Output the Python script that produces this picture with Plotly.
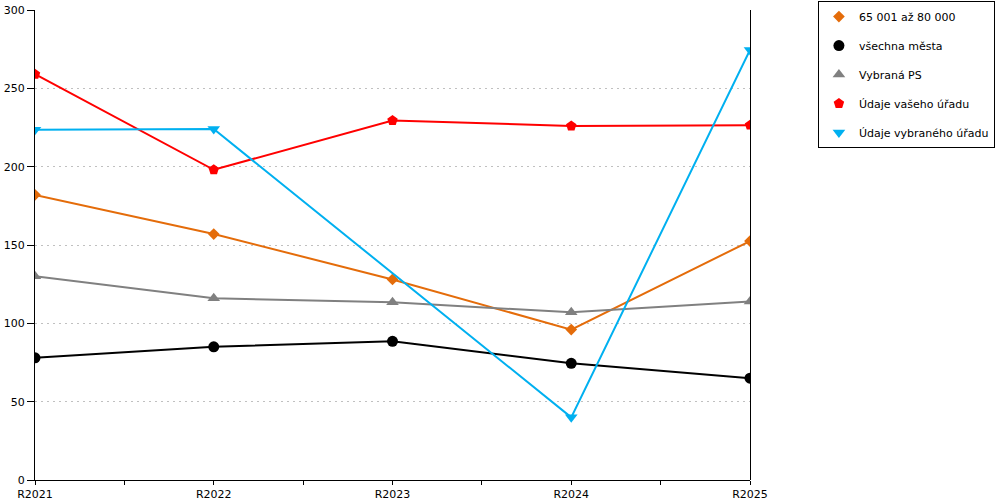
import plotly.graph_objects as go

years = ["R2021", "R2022", "R2023", "R2024", "R2025"]

mesta_65_80 = [182, 157, 128, 96, 152.5]
vsechna_mesta = [78, 85, 88.5, 74.5, 65]
vybrana_ps = [130, 116, 113.5, 107, 114]
vas_urad = [259, 198, 229.5, 226, 226.5]
vybrany_urad = [223.5, 224, None, 40, 274.5]

names = ["65 001 až 80 000", "všechna města", "Vybraná PS",
         "Údaje vašeho úřadu", "Údaje vybraného úřadu"]
colors = ["#E46C0A", "#000000", "#808080", "#FF0000", "#00B0F0"]
symbols = ["diamond", "circle", "triangle-up", "pentagon", "triangle-down"]
sizes = [9, 11, 11, 11, 11]
series = [mesta_65_80, vsechna_mesta, vybrana_ps, vas_urad, vybrany_urad]

xpos = list(range(len(years)))

fig = go.Figure()
for i, vals in enumerate(series):
    fig.add_trace(go.Scatter(
        x=xpos, y=vals, name=names[i], mode="lines+markers",
        line=dict(color=colors[i], width=2),
        marker=dict(symbol=symbols[i], size=sizes[i], color=colors[i]),
        connectgaps=True, showlegend=False,
    ))
    # marker-only entry for the legend
    fig.add_trace(go.Scatter(
        x=[None], y=[None], name=names[i], mode="markers",
        marker=dict(symbol=symbols[i], size=sizes[i], color=colors[i]),
        legendgroup=str(i),
    ))

# half-step ticks, labels only on the categories
tickvals = [i / 2 for i in range(2 * len(years) - 1)]
ticktext = [years[int(v)] if v == int(v) else "" for v in tickvals]

fig.update_xaxes(
    range=[0, len(years) - 1], tickvals=tickvals, ticktext=ticktext,
    showline=True, linecolor="black", linewidth=1,
    ticks="outside", ticklen=4, tickcolor="black",
    showgrid=False, zeroline=False, automargin=False,
)
fig.update_yaxes(
    range=[0, 300], dtick=50,
    showline=True, linecolor="black", linewidth=1,
    ticks="outside", ticklen=7, tickcolor="black",
    showgrid=True, gridcolor="#c0c0c0", griddash="2px,4px", gridwidth=1,
    zeroline=False, automargin=False,
)

# right border line of the plot area (half-pixel shift keeps it crisp)
edge = 1 + 0.5 / 715
fig.add_shape(type="line", xref="paper", yref="paper", x0=edge, x1=edge, y0=0, y1=1,
              line=dict(color="black", width=1))

fig.update_layout(
    width=1000, height=500,
    margin=dict(l=35, r=250, t=10, b=20, autoexpand=False),
    paper_bgcolor="white", plot_bgcolor="white",
    font=dict(family="DejaVu Sans", size=11, color="black"),
    legend=dict(
        x=1.095, y=1.019, xanchor="left", yanchor="top",
        bordercolor="black", borderwidth=1, bgcolor="white",
        tracegroupgap=10, itemwidth=30, font=dict(size=11),
    ),
    showlegend=True,
)

fig.write_html("out.html", config={"displayModeBar": False},
               post_script="document.body.style.margin='0px';")
